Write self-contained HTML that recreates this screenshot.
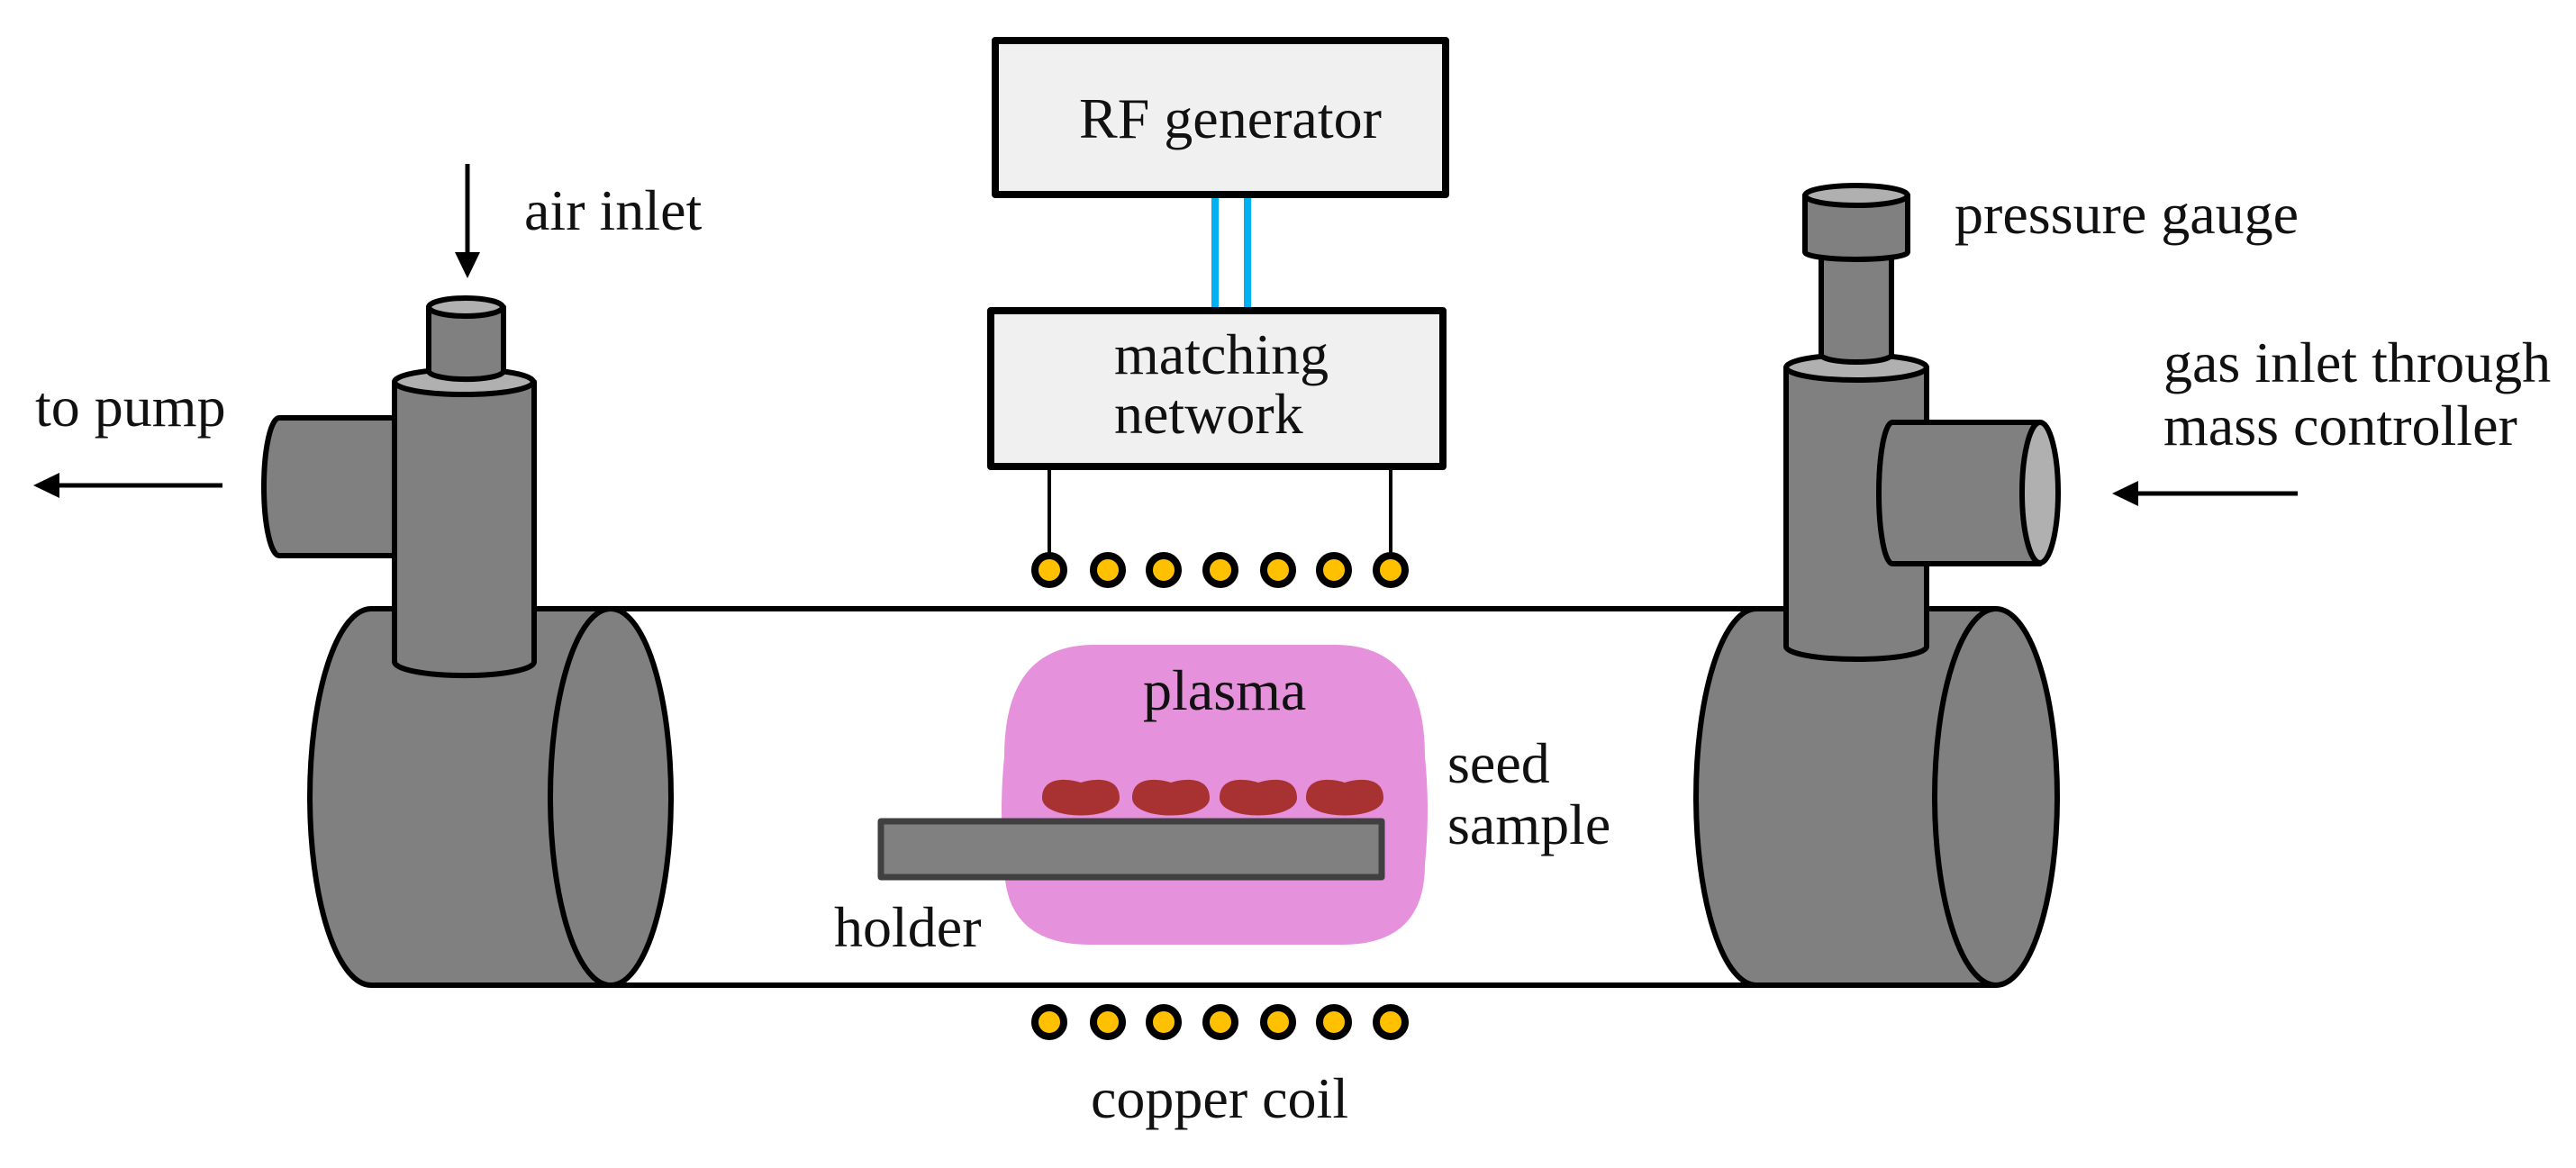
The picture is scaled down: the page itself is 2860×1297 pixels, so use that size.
<!DOCTYPE html>
<html><head><meta charset="utf-8"><style>
html,body{margin:0;padding:0;background:#fff;}
svg{display:block;}
text{font-family:"Liberation Serif",serif;font-size:64px;fill:#111;}
</style></head><body>
<svg width="2860" height="1297" viewBox="0 0 2860 1297" xmlns="http://www.w3.org/2000/svg">
<g stroke="#000" stroke-width="6" stroke-linejoin="round">
<!-- tube lines -->
<line x1="678" y1="676" x2="1950" y2="676"/>
<line x1="678" y1="1094" x2="1950" y2="1094"/>

<!-- plasma -->
<path d="M1215,716 H1482 Q1582,716 1582,840 Q1588,900 1582,960 Q1582,1049 1490,1049 H1210 Q1115,1049 1115,960 Q1109,900 1115,840 Q1115,716 1215,716 Z" fill="#e691dc" stroke="none"/>
<!-- seeds -->
<g fill="#a83232" stroke="none">
<path d="M1157,886 C1157,862 1185,864 1200,869 C1215,864 1243,862 1243,886 C1243,912 1157,912 1157,886 Z"/>
<path d="M1257,886 C1257,862 1285,864 1300,869 C1315,864 1343,862 1343,886 C1343,912 1257,912 1257,886 Z"/>
<path d="M1354,886 C1354,862 1382,864 1397,869 C1412,864 1440,862 1440,886 C1440,912 1354,912 1354,886 Z"/>
<path d="M1450,886 C1450,862 1478,864 1493,869 C1508,864 1536,862 1536,886 C1536,912 1450,912 1450,886 Z"/>
</g>
<!-- holder -->
<rect x="978" y="912" width="556" height="62" fill="#808080" stroke="#404040" stroke-width="7"/>

<!-- LEFT assembly -->
<path d="M678,676 H412 A68,209 0 0 0 412,1094 H678 Z" fill="#808080"/>
<ellipse cx="678" cy="885" rx="67" ry="209" fill="#808080"/>
<path d="M438,464 H310 A17,76.5 0 0 0 310,617 H438 Z" fill="#808080"/>
<path d="M438,424 V735 A77,15 0 0 0 593,735 V424 Z" fill="#808080"/>
<ellipse cx="515" cy="424" rx="77" ry="14" fill="#b0b0b0"/>
<path d="M476,341 V412 A41,9 0 0 0 559,412 V341 Z" fill="#808080"/>
<ellipse cx="517" cy="341" rx="41" ry="10" fill="#b0b0b0"/>

<!-- RIGHT assembly -->
<path d="M2216,676 H1950 A67,209 0 0 0 1950,1094 H2216 Z" fill="#808080"/>
<ellipse cx="2216" cy="885" rx="68" ry="209" fill="#808080"/>
<path d="M1983,408 V718 A78,14 0 0 0 2139,718 V408 Z" fill="#808080"/>
<ellipse cx="2061" cy="408" rx="78" ry="14" fill="#b0b0b0"/>
<path d="M2022,280 V394 A39,8 0 0 0 2100,394 V280 Z" fill="#808080"/>
<path d="M2004,217 V280 A57,8 0 0 0 2118,280 V217 Z" fill="#808080"/>
<ellipse cx="2061" cy="217" rx="57" ry="11" fill="#b0b0b0"/>
<path d="M2265,469 H2101 A15,78.5 0 0 0 2101,626 H2265 Z" fill="#808080"/>
<ellipse cx="2265" cy="547" rx="20" ry="78" fill="#b0b0b0"/>

<!-- boxes -->
<rect x="1105" y="45" width="500" height="171" fill="#f0f0f0" stroke-width="8"/>
<rect x="1100" y="345" width="502" height="173" fill="#f0f0f0" stroke-width="8"/>
</g>
<!-- blue lines -->
<rect x="1345" y="220" width="8" height="121" fill="#00b0f0"/>
<rect x="1381" y="220" width="8" height="121" fill="#00b0f0"/>
<!-- leads -->
<line x1="1165" y1="522" x2="1165" y2="633" stroke="#000" stroke-width="4"/>
<line x1="1544" y1="522" x2="1544" y2="633" stroke="#000" stroke-width="4"/>
<!-- coils -->
<g fill="#ffc000" stroke="#000" stroke-width="8">
<circle cx="1165" cy="633" r="16"/><circle cx="1230" cy="633" r="16"/><circle cx="1292" cy="633" r="16"/><circle cx="1355" cy="633" r="16"/><circle cx="1419" cy="633" r="16"/><circle cx="1481" cy="633" r="16"/><circle cx="1544" cy="633" r="16"/>
<circle cx="1165" cy="1135" r="16"/><circle cx="1230" cy="1135" r="16"/><circle cx="1292" cy="1135" r="16"/><circle cx="1355" cy="1135" r="16"/><circle cx="1419" cy="1135" r="16"/><circle cx="1481" cy="1135" r="16"/><circle cx="1544" cy="1135" r="16"/>
</g>
<!-- arrows -->
<g stroke="#000" stroke-width="5">
<line x1="519" y1="182" x2="519" y2="285"/>
<line x1="247" y1="539" x2="62" y2="539"/>
<line x1="2551" y1="548" x2="2370" y2="548"/>
</g>
<g fill="#000">
<polygon points="505,280 533,280 519,309"/>
<polygon points="66,525 66,553 37,539"/>
<polygon points="2374,534 2374,562 2345,548"/>
</g>
<!-- labels -->
<text x="1198" y="153">RF generator</text>
<text x="1237" y="415">matching</text>
<text x="1237" y="481">network</text>
<text x="582" y="255">air inlet</text>
<text x="39" y="473">to pump</text>
<text x="2170" y="259">pressure gauge</text>
<text x="2402" y="424">gas inlet through</text>
<text x="2402" y="494">mass controller</text>
<text x="1269" y="788">plasma</text>
<text x="1607" y="869">seed</text>
<text x="1607" y="937">sample</text>
<text x="926" y="1051">holder</text>
<text x="1211" y="1241">copper coil</text>
</svg>
</body></html>
